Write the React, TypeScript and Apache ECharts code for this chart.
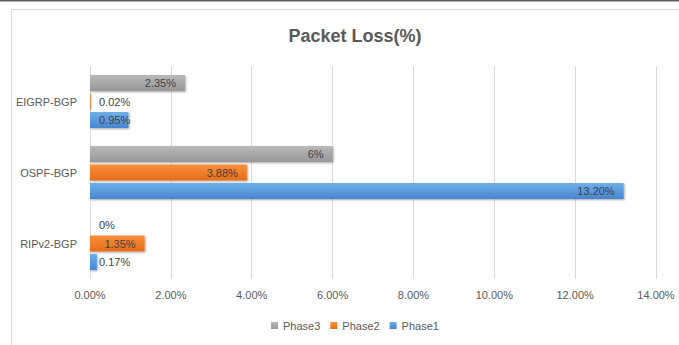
import React, { useEffect, useRef } from "react";
import * as echarts from "echarts";

const categories = ["RIPv2-BGP", "OSPF-BGP", "EIGRP-BGP"];
const phase1 = [0.17, 13.2, 0.95];
const phase2 = [1.35, 3.88, 0.02];
const phase3 = [0, 6, 2.35];
const labelText1 = ["0.17%", "13.20%", "0.95%"];
const labelText2 = ["1.35%", "3.88%", "0.02%"];
const labelText3 = ["0%", "6%", "2.35%"];
const legendOrder = ["Phase3", "Phase2", "Phase1"];

const FONT = "'Liberation Sans', Arial, sans-serif";

function grad(top: string, bottom: string) {
  return new echarts.graphic.LinearGradient(0, 0, 0, 1, [
    { offset: 0, color: top },
    { offset: 1, color: bottom },
  ]);
}

// Values that are too short for an inside-end label get their label at the bar start.
function buildData(values: number[], texts: string[]) {
  return values.map((v, i) => {
    const small = v < 1;
    return {
      value: v,
      label: {
        position: small ? "insideLeft" : "insideRight",
        distance: 9,
        formatter: texts[i],
      },
    };
  });
}

function makeSeries(name: string, values: number[], texts: string[], top: string, bottom: string) {
  return {
    name,
    type: "bar",
    barWidth: 16,
    barGap: "16%",
    data: buildData(values, texts),
    itemStyle: {
      color: grad(top, bottom),
      shadowColor: "rgba(0,0,0,0.35)",
      shadowBlur: 2,
      shadowOffsetX: 1,
      shadowOffsetY: 1,
    },
    label: {
      show: true,
      color: "#404040",
      fontSize: 11,
      fontFamily: FONT,
    },
  };
}

export default function App() {
  const ref = useRef<HTMLDivElement>(null);

  useEffect(() => {
    if (!ref.current) return;
    const chart = echarts.init(ref.current, undefined, { renderer: "svg" });
    chart.setOption({
      animation: false,
      backgroundColor: "#ffffff",
      title: {
        text: "Packet Loss(%)",
        left: 350,
        textAlign: "center",
        top: 22,
        textStyle: {
          color: "#595959",
          fontSize: 18,
          fontWeight: "bold",
          fontFamily: FONT,
        },
      },
      graphic: [
        {
          type: "line",
          shape: { x1: 0, y1: 0.5, x2: 679, y2: 0.5 },
          style: { stroke: "#5f5f5f", lineWidth: 2 },
          silent: true,
        },
        {
          type: "rect",
          shape: { x: 11.5, y: 9.5, width: 700, height: 400 },
          style: { fill: "none", stroke: "#d9d9d9", lineWidth: 1 },
          silent: true,
        },
      ],
      legend: {
        data: legendOrder,
        left: 266,
        top: 315,
        itemWidth: 7,
        itemHeight: 7,
        itemGap: 10,
        icon: "rect",
        textStyle: { color: "#595959", fontSize: 11, fontFamily: FONT },
      },
      grid: { left: 90, right: 23, top: 66, bottom: 66 },
      xAxis: {
        type: "value",
        min: 0,
        max: 14,
        interval: 2,
        axisLine: { show: false },
        axisTick: { show: false },
        splitLine: { lineStyle: { color: "#d9d9d9" } },
        axisLabel: {
          color: "#595959",
          fontSize: 11,
          fontFamily: FONT,
          margin: 10,
          formatter: (v: number) => v.toFixed(2) + "%",
        },
      },
      yAxis: {
        type: "category",
        data: categories,
        axisLine: { show: false },
        axisTick: { show: false },
        axisLabel: {
          color: "#595959",
          fontSize: 11,
          fontFamily: FONT,
          margin: 13,
        },
      },
      // Phase3 is listed first so that it sits on top within each category band.
      series: [
        makeSeries("Phase3", phase3, labelText3, "#b9b9b9", "#979797"),
        makeSeries("Phase2", phase2, labelText2, "#f98f3c", "#e66d17"),
        makeSeries("Phase1", phase1, labelText1, "#6eaee9", "#4786cf"),
      ],
    });
    return () => chart.dispose();
  }, []);

  return (
    <div
      ref={ref}
      style={{ position: "fixed", left: 0, top: 0, width: 679, height: 345 }}
    />
  );
}
